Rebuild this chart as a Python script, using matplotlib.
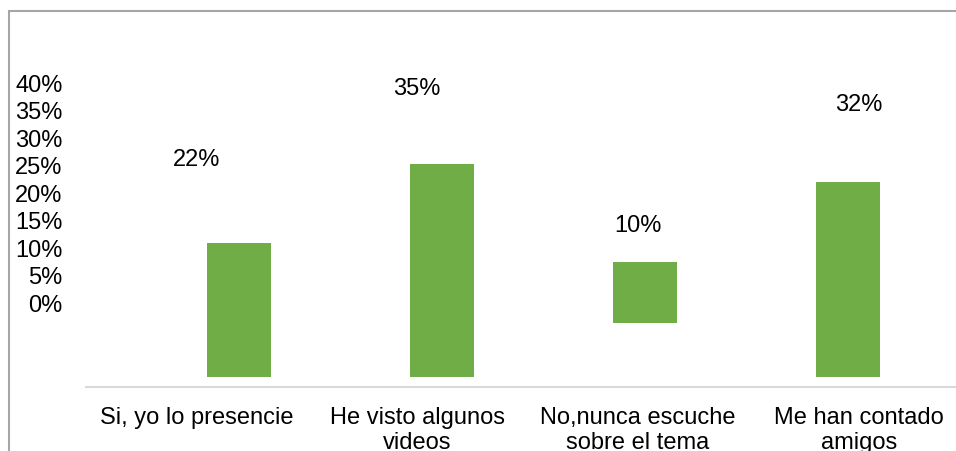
import matplotlib
matplotlib.use("Agg")
import matplotlib.pyplot as plt
from matplotlib.patches import Rectangle

plt.rcParams['font.family'] = ['Liberation Sans', 'DejaVu Sans']

categories = ["Si, yo lo presencie", "He visto algunos\nvideos",
              "No,nunca escuche\nsobre el tema", "Me han contado\namigos"]
values = [22, 35, 10, 32]
value_labels = ["22%", "35%", "10%", "32%"]
bar_bottoms = [0, 0, 8.9, 0]
tick_values = [0, 5, 10, 15, 20, 25, 30, 35, 40]
tick_labels = ["0%", "5%", "10%", "15%", "20%", "25%", "30%", "35%", "40%"]

W, H = 956, 452
fig = plt.figure(figsize=(W / 100, H / 100), dpi=100)
fig.patch.set_facecolor("white")

FS = 17
GREEN = "#70AD47"

def px(l, b, r, t):
    return [l / W, (H - b) / H, (r - l) / W, (b - t) / H]

# main axes: ticks, category labels, value labels
ax = fig.add_axes(px(86, 388, 969, 83))
ax.set_xlim(-0.5, 3.5)
ax.set_ylim(-15.45, 40)
for s in ["top", "right", "left"]:
    ax.spines[s].set_visible(False)
ax.spines["bottom"].set_color("#d9d9d9")
ax.spines["bottom"].set_linewidth(1.5)
ax.set_xticks(range(len(categories)))
ax.set_xticklabels(categories, fontsize=FS, linespacing=1.22)
ax.set_yticks(tick_values)
ax.set_yticklabels(tick_labels, fontsize=FS)
ax.tick_params(axis="x", length=0, pad=13.5)
ax.tick_params(axis="y", length=0, pad=17)
ax.patch.set_alpha(0)
for i, (v, lab) in enumerate(zip(values, value_labels)):
    ax.annotate(lab, xy=(i, v), xytext=(0, 22), textcoords="offset pixels",
                ha="center", va="center", fontsize=FS, annotation_clip=False)

# bar axes
bx = fig.add_axes(px(137.5, 378, 949.5, 134))
bx.set_xlim(-0.5, 3.5)
bx.set_ylim(0, 40)
bx.axis("off")
bx.bar(range(len(values)), values, bottom=bar_bottoms, width=0.32, color=GREEN)

# outer chart border
fig.patches.append(Rectangle((9 / W, -0.2), 1.2, (H - 12) / H + 0.2,
                             transform=fig.transFigure, fill=False,
                             edgecolor="#a6a6a6", linewidth=1.5, clip_on=False))

fig.savefig("out.png", dpi=100)
